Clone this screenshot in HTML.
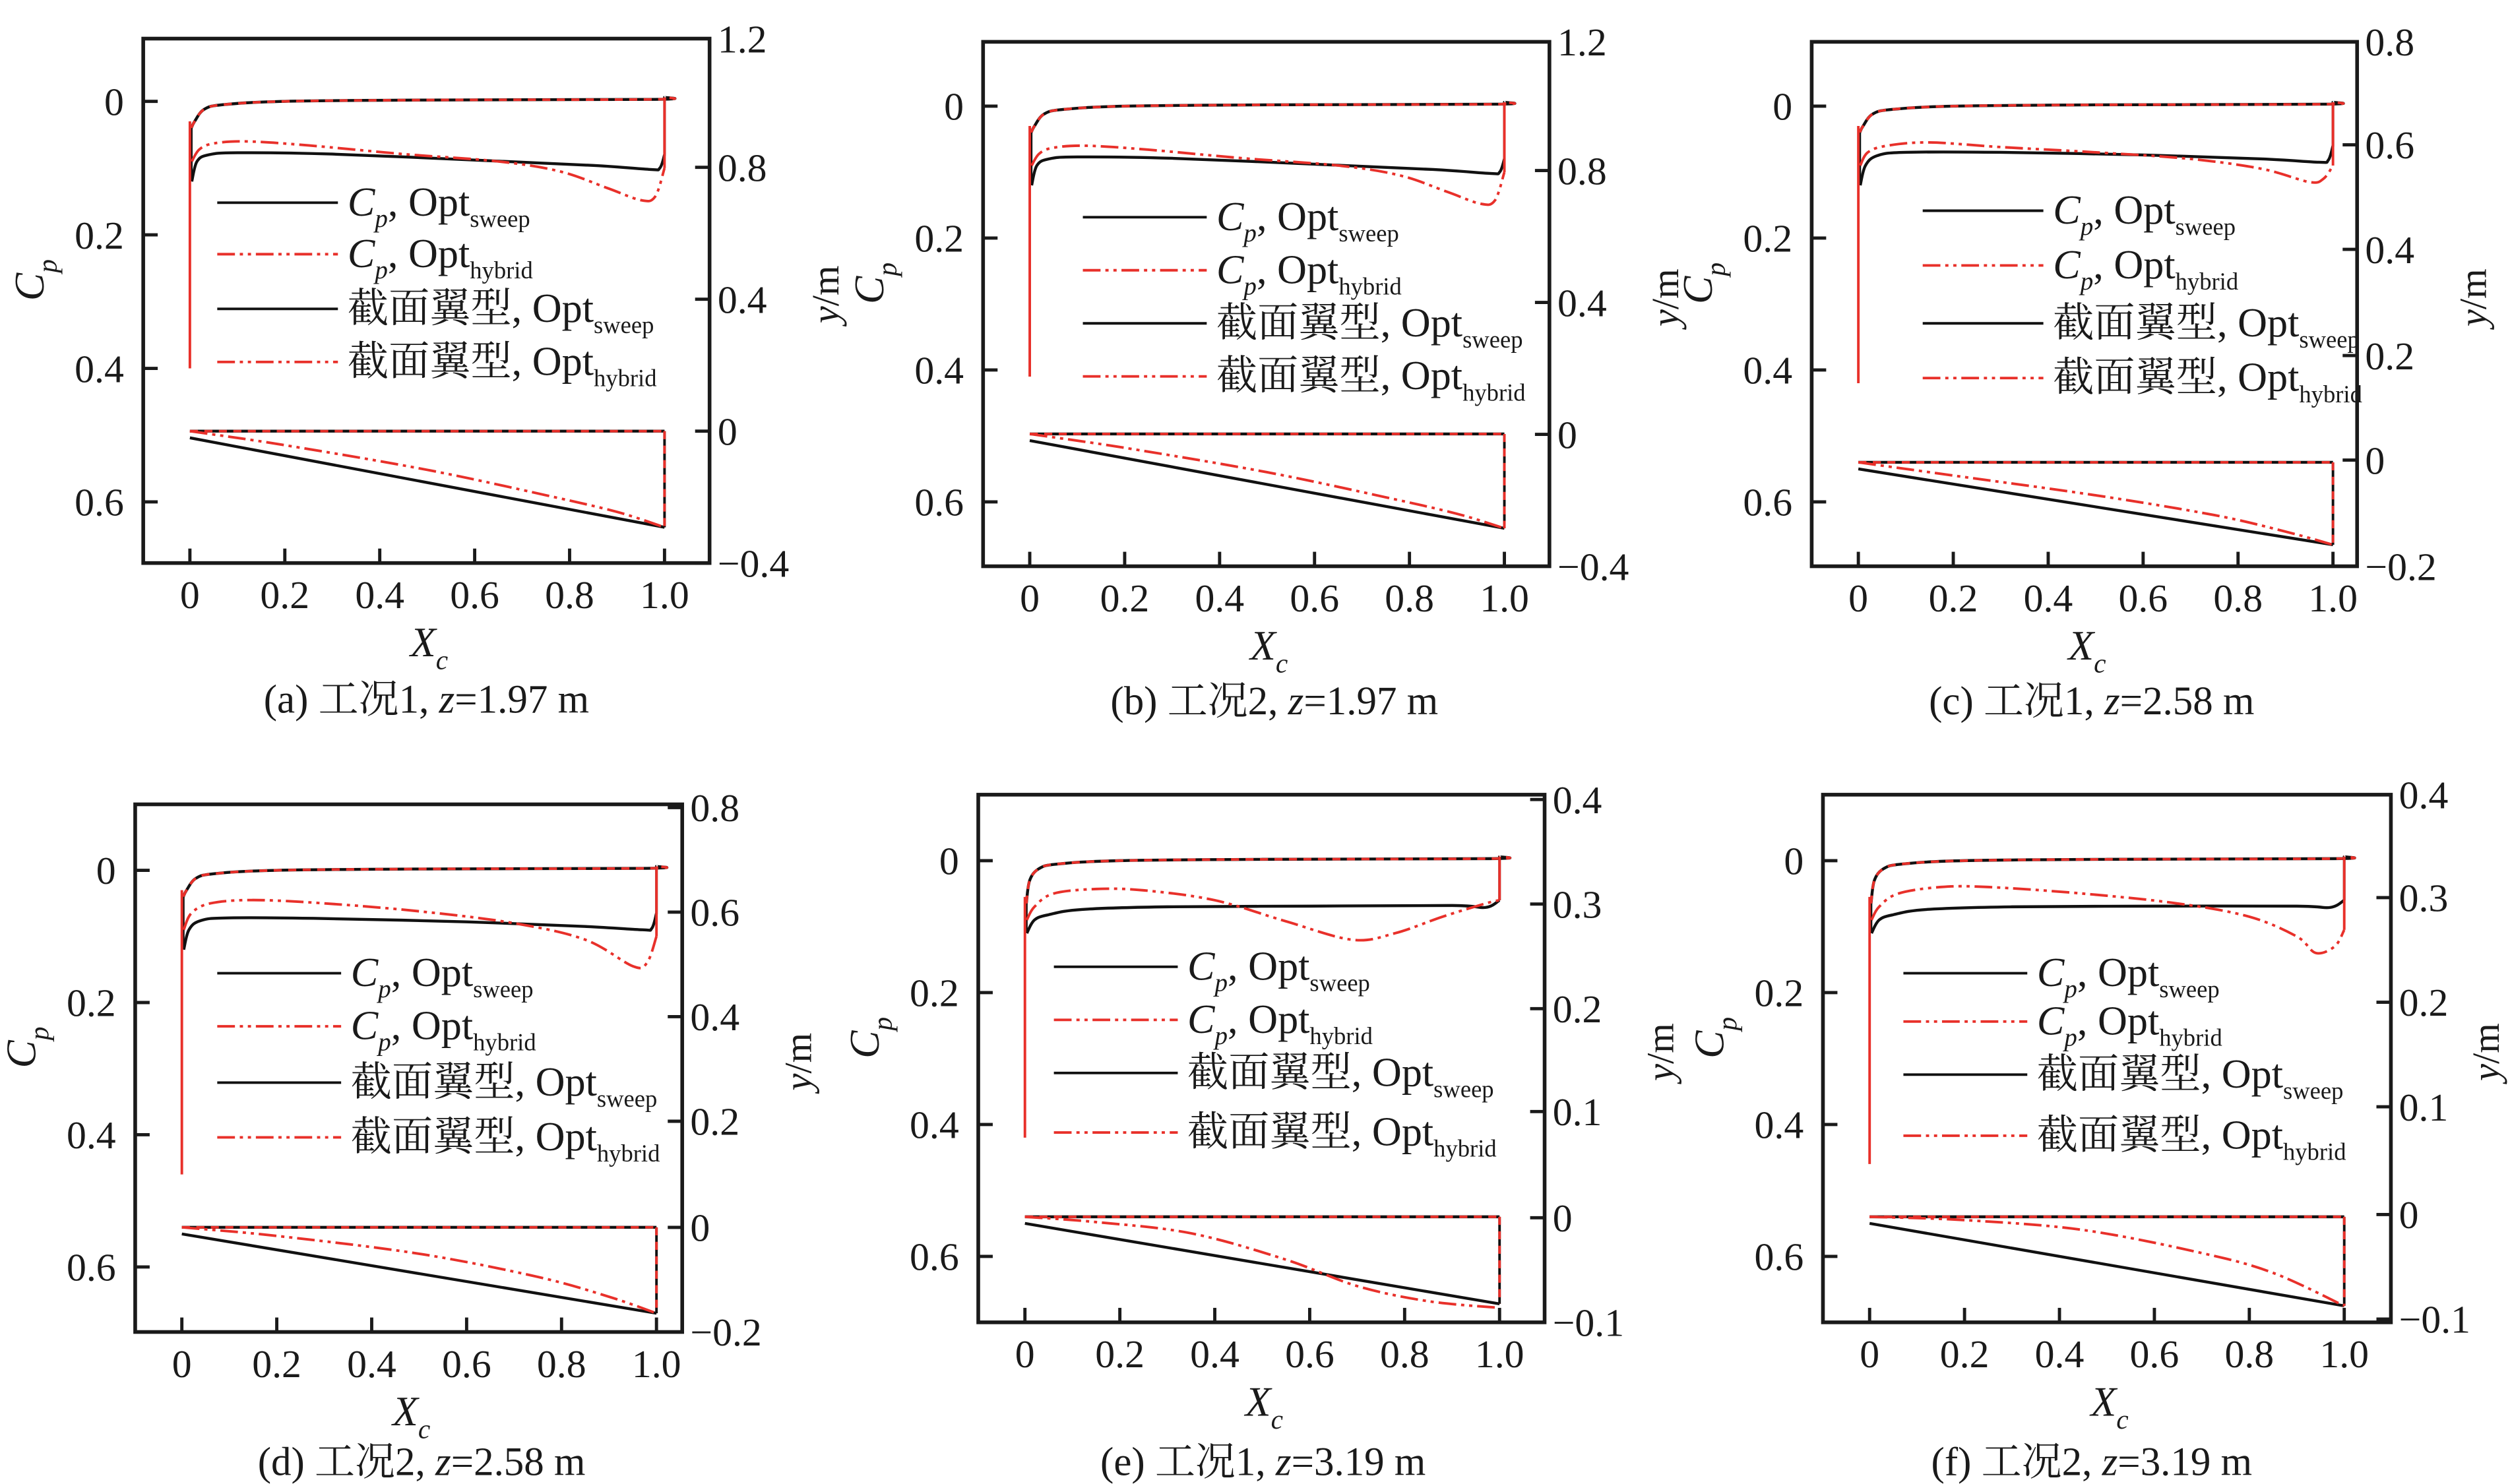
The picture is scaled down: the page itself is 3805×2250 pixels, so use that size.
<!DOCTYPE html>
<html><head><meta charset="utf-8">
<style>
html,body{margin:0;padding:0;background:#fff;}
svg{display:block;}
text{font-family:"Liberation Serif","Noto Serif CJK SC","Noto Sans CJK SC",serif;fill:#1a1a1a;}
</style></head>
<body>
<svg id="s" xmlns="http://www.w3.org/2000/svg" width="3805" height="2250" viewBox="0 0 1560 922.5"></svg>
<script>
const S=document.getElementById('s');
let out='';
const RED='#e8302a', BLK='#111';
const DASH='11 3 2 3 2 3';
function cr(pts){
  let d='M'+pts[0][0].toFixed(2)+','+pts[0][1].toFixed(2);
  for(let i=0;i<pts.length-1;i++){
    const p0=pts[Math.max(0,i-1)],p1=pts[i],p2=pts[i+1],p3=pts[Math.min(pts.length-1,i+2)];
    const c1=[p1[0]+(p2[0]-p0[0])/6,p1[1]+(p2[1]-p0[1])/6];
    const c2=[p2[0]-(p3[0]-p1[0])/6,p2[1]-(p3[1]-p1[1])/6];
    d+=' C'+c1.map(v=>v.toFixed(2)).join(',')+' '+c2.map(v=>v.toFixed(2)).join(',')+' '+p2.map(v=>v.toFixed(2)).join(',');
  }
  return d;
}
function panel(P){
  const X=x=>P.x0+P.xs*x, Y=c=>P.c0+P.cs*c;
  const tp=a=>a.map(p=>[X(p[0]),Y(p[1])]);
  const line=(pts,col,dash,w)=>{out+=`<path d="${cr(tp(pts))}" fill="none" stroke="${col}" stroke-width="${w||1.6}" ${dash?'stroke-dasharray="'+dash+'"':''} stroke-linejoin="round"/>`;};
  const poly=(pts,col,dash,w)=>{out+=`<polyline points="${tp(pts).map(p=>p.join(',')).join(' ')}" fill="none" stroke="${col}" stroke-width="${w||1.6}" ${dash?'stroke-dasharray="'+dash+'"':''}/>`;};
  const up=[[0.003,P.upStart],[0.01,0.03],[0.03,0.012],[0.07,0.005],[0.2,0.0],[0.5,-0.002],[0.98,-0.003],[1.0,-0.006]];
  line(up,BLK,null,1.8); line(up,RED,'5 4',1.6);
  line(P.bl,BLK,null,1.8);
  poly([[0.003,P.upStart],[0.003,P.bl[0][1]]],BLK,null,1.6);
  poly([[1,P.bl[P.bl.length-1][1]],[1,-0.006]],BLK,null,1.6);
  line(P.rl,RED,DASH,1.6);
  poly([[0.0,P.upStart-0.01],[0.0,P.spike]],RED,null,1.6);
  poly([[1,P.rl[P.rl.length-1][1]],[1,-0.006]],RED,null,1.6);
  poly([[0,P.v0],[1,P.v0]],BLK,null,1.8); poly([[0,P.v0],[1,P.v0]],RED,'5 4',1.6);
  poly([[0,P.v0+0.01],[1,P.vb]],BLK,null,1.8);
  line(P.ra,RED,DASH,1.6);
  poly([[1,P.v0],[1,P.vb]],BLK,null,1.6); poly([[1,P.v0],[1,P.vb]],RED,'5 4',1.6);
  out+=`<rect x="${P.bx0}" y="${P.by0}" width="${P.bx1-P.bx0}" height="${P.by1-P.by0}" fill="none" stroke="#1a1a1a" stroke-width="2.3"/>`;
  [0,0.2,0.4,0.6].forEach(v=>{const y=Y(v);out+=`<line x1="${P.bx0}" y1="${y}" x2="${P.bx0+9}" y2="${y}" stroke="#1a1a1a" stroke-width="2"/>`;
    out+=`<text x="${P.bx0-12}" y="${y+8.5}" font-size="24.5" text-anchor="end">${v===0?'0':v.toFixed(1)}</text>`;});
  [0,0.2,0.4,0.6,0.8,1.0].forEach(v=>{const x=X(v);out+=`<line x1="${x}" y1="${P.by1}" x2="${x}" y2="${P.by1-9}" stroke="#1a1a1a" stroke-width="2"/>`;
    out+=`<text x="${x}" y="${P.by1+28}" font-size="24.5" text-anchor="middle">${v===0?'0':v.toFixed(1)}</text>`;});
  P.rt.forEach(([lab,y])=>{out+=`<line x1="${P.bx1}" y1="${y}" x2="${P.bx1-9}" y2="${y}" stroke="#1a1a1a" stroke-width="2"/>`;
    out+=`<text x="${P.bx1+5}" y="${y+8.5}" font-size="24.5">${lab}</text>`;});
  const cx=(P.bx0+P.bx1)/2;
  out+=`<text x="${cx-10}" y="${P.by1+58}" font-size="26" font-style="italic">X<tspan font-size="17" dy="8">c</tspan></text>`;
  out+=`<text transform="translate(${P.bx0-62},${(P.by0+P.by1)/2}) rotate(-90)" font-size="26" font-style="italic">C<tspan font-size="17" dy="8">p</tspan></text>`;
  const ymx=Math.min(P.bx1+80,1553);
  out+=`<text transform="translate(${ymx},${(P.by0+P.by1)/2-4}) rotate(-90)" font-size="24" text-anchor="middle"><tspan font-style="italic">y</tspan>/m</text>`;
  out+=`<text x="${P.capx}" y="${P.capy}" font-size="25" text-anchor="middle">${P.cap}</text>`;
  const L=P.leg;
  const labs=[['<tspan font-style="italic">C</tspan><tspan font-style="italic" font-size="16" dy="7">p</tspan><tspan dy="-7">, Opt</tspan><tspan font-size="15" dy="7">sweep</tspan>',0],
    ['<tspan font-style="italic">C</tspan><tspan font-style="italic" font-size="16" dy="7">p</tspan><tspan dy="-7">, Opt</tspan><tspan font-size="15" dy="7">hybrid</tspan>',1],
    ['截面翼型, Opt<tspan font-size="15" dy="7">sweep</tspan>',0],
    ['截面翼型, Opt<tspan font-size="15" dy="7">hybrid</tspan>',1]];
  labs.forEach(([t,r],i)=>{const y=L.rows[i];
    out+=`<line x1="${L.a}" y1="${y}" x2="${L.b}" y2="${y}" stroke="${r?RED:BLK}" stroke-width="1.6" ${r?'stroke-dasharray="'+DASH+'"':''}/>`;
    out+=`<text x="${L.b+6}" y="${y+8}" font-size="25.5">${t}</text>`;});
}
const blAB=[[0.004,0.12],[0.015,0.09],[0.04,0.08],[0.1,0.077],[0.3,0.079],[0.6,0.088],[0.85,0.096],[0.97,0.102],[0.99,0.1],[1,0.08]];
const rlAB=[[0.004,0.09],[0.02,0.072],[0.05,0.063],[0.12,0.06],[0.25,0.066],[0.45,0.079],[0.65,0.09],[0.78,0.105],[0.88,0.13],[0.95,0.148],[0.98,0.143],[1,0.1]];
const P=[
 {bx0:89,bx1:441,by0:24,by1:350,x0:118,xs:295,c0:63,cs:415,upStart:0.04,spike:0.4,bl:blAB,rl:rlAB,
  v0:0.494,vb:0.638,ra:[[0,0.494],[0.2,0.515],[0.5,0.552],[0.75,0.59],[0.9,0.615],[1,0.638]],
  rt:[['1.2',24],['0.8',104],['0.4',186],['0',268],['\u22120.4',350]],cap:'(a) 工况1, <tspan font-style="italic">z</tspan>=1.97 m',capx:265,capy:443,
  leg:{a:135,b:210,rows:[126,158,192,225]}},
 {bx0:611,bx1:963,by0:26,by1:352,x0:640,xs:295,c0:66,cs:410,upStart:0.04,spike:0.41,bl:blAB,rl:rlAB,
  v0:0.497,vb:0.64,ra:[[0,0.497],[0.2,0.518],[0.5,0.555],[0.75,0.593],[0.9,0.618],[1,0.64]],
  rt:[['1.2',26],['0.8',106],['0.4',188],['0',270],['\u22120.4',352]],cap:'(b) 工况2, <tspan font-style="italic">z</tspan>=1.97 m',capx:792,capy:444,
  leg:{a:673,b:750,rows:[135,168,201,234]}},
 {bx0:1126,bx1:1465,by0:26,by1:352,x0:1155,xs:295,c0:66,cs:410,upStart:0.04,spike:0.42,
  bl:[[0.004,0.12],[0.015,0.09],[0.04,0.075],[0.1,0.07],[0.3,0.07],[0.6,0.074],[0.85,0.08],[0.97,0.085],[0.99,0.082],[1,0.06]],
  rl:[[0.004,0.09],[0.02,0.07],[0.06,0.06],[0.15,0.055],[0.3,0.062],[0.5,0.07],[0.7,0.08],[0.85,0.095],[0.95,0.115],[0.98,0.11],[1,0.09]],
  v0:0.54,vb:0.665,ra:[[0,0.54],[0.2,0.56],[0.5,0.59],[0.75,0.62],[0.9,0.645],[1,0.665]],
  rt:[['0.8',26],['0.6',90],['0.4',155],['0.2',221],['0',286],['\u22120.2',352]],cap:'(c) 工况1, <tspan font-style="italic">z</tspan>=2.58 m',capx:1300,capy:444,
  leg:{a:1195,b:1270,rows:[131,165,201,235]}},
 {bx0:84,bx1:424,by0:500,by1:828,x0:113,xs:295,c0:541,cs:411,upStart:0.04,spike:0.46,
  bl:[[0.004,0.12],[0.015,0.09],[0.04,0.076],[0.1,0.072],[0.3,0.073],[0.6,0.078],[0.85,0.085],[0.97,0.09],[0.99,0.088],[1,0.065]],
  rl:[[0.004,0.09],[0.02,0.065],[0.06,0.05],[0.15,0.045],[0.3,0.05],[0.5,0.062],[0.7,0.08],[0.85,0.105],[0.95,0.145],[0.98,0.14],[1,0.1]],
  v0:0.54,vb:0.67,ra:[[0,0.54],[0.2,0.553],[0.5,0.58],[0.75,0.615],[0.9,0.645],[1,0.67]],
  rt:[['0.8',502],['0.6',567],['0.4',632],['0.2',697],['0',763],['\u22120.2',828]],cap:'(d) 工况2, <tspan font-style="italic">z</tspan>=2.58 m',capx:262,capy:917,
  leg:{a:135,b:212,rows:[605,638,673,707]}},
 {bx0:608,bx1:960,by0:494,by1:822,x0:637,xs:295,c0:535,cs:410,upStart:0.065,spike:0.42,
  bl:[[0.004,0.11],[0.02,0.09],[0.05,0.082],[0.12,0.074],[0.3,0.07],[0.6,0.069],[0.9,0.068],[0.97,0.071],[1,0.06]],
  rl:[[0.004,0.09],[0.02,0.07],[0.06,0.05],[0.15,0.043],[0.25,0.045],[0.4,0.06],[0.55,0.092],[0.69,0.12],[0.78,0.11],[0.88,0.085],[0.97,0.065],[1,0.06]],
  v0:0.54,vb:0.672,ra:[[0,0.54],[0.15,0.548],[0.35,0.565],[0.55,0.605],[0.7,0.645],[0.85,0.668],[1,0.678]],
  rt:[['0.4',497],['0.3',562],['0.2',627],['0.1',691],['0',757],['\u22120.1',822]],cap:'(e) 工况1, <tspan font-style="italic">z</tspan>=3.19 m',capx:785,capy:917,
  leg:{a:655,b:732,rows:[601,634,667,704]}},
 {bx0:1133,bx1:1486,by0:494,by1:822,x0:1162,xs:295,c0:535,cs:410,upStart:0.065,spike:0.46,
  bl:[[0.004,0.11],[0.02,0.09],[0.05,0.082],[0.12,0.074],[0.3,0.07],[0.6,0.069],[0.9,0.069],[0.97,0.071],[1,0.06]],
  rl:[[0.004,0.09],[0.02,0.07],[0.06,0.05],[0.15,0.04],[0.25,0.04],[0.45,0.05],[0.65,0.065],[0.8,0.085],[0.9,0.115],[0.94,0.14],[0.98,0.13],[1,0.105]],
  v0:0.54,vb:0.675,ra:[[0,0.54],[0.2,0.545],[0.45,0.56],[0.7,0.595],[0.85,0.625],[1,0.675]],
  rt:[['0.4',494],['0.3',558],['0.2',623],['0.1',688],['0',755],['\u22120.1',820]],cap:'(f) 工况2, <tspan font-style="italic">z</tspan>=3.19 m',capx:1300,capy:917,
  leg:{a:1183,b:1260,rows:[605,635,668,706]}}
];
P.forEach(panel);
S.innerHTML=out;
</script>
</body></html>
